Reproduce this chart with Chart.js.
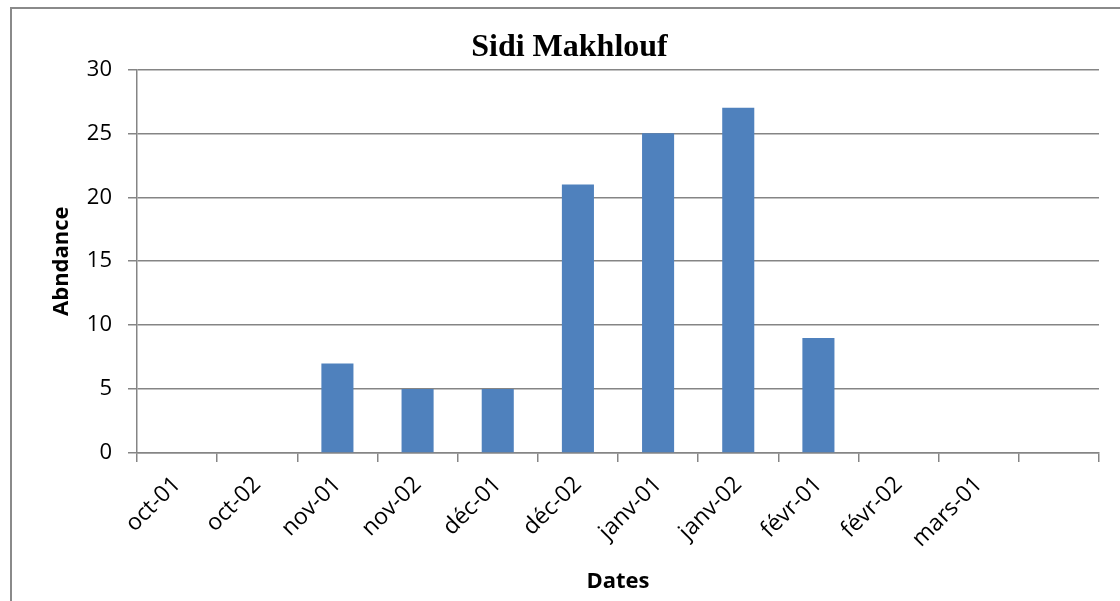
<!DOCTYPE html>
<html>
<head>
<meta charset="utf-8">
<script src="https://cdn.jsdelivr.net/npm/chart.js@4"></script>
<style>
  body { margin: 0; background: #fff; }
  canvas { display: block; }
</style>
</head>
<body>
<canvas id="abondance" width="1120" height="601"></canvas>
<script>
// dates des relevés (la dernière case est vide dans l'original)
const dates = ['oct-01', 'oct-02', 'nov-01', 'nov-02', 'déc-01', 'déc-02',
    'janv-01', 'janv-02', 'févr-01', 'févr-02', 'mars-01', '']
const abondance = [0, 0, 7, 5, 5, 21, 25, 27, 9, 0, 0, 0]
const yTicks = [0, 5, 10, 15, 20, 25, 30]

const grey = '#858585'

// cadre gris autour du graphique
const frame = {
    id: 'frame',
    beforeDraw(chart) {
        const c = chart.ctx
        c.save()
        c.fillStyle = '#fff'
        c.fillRect(0, 0, chart.width, chart.height)
        c.strokeStyle = '#8a8a8a'
        c.lineWidth = 2
        c.strokeRect(11, 8, 1200, 700)
        c.restore()
    }
}

const ctx = document.getElementById('abondance').getContext('2d')

new Chart(ctx, {
    type: 'bar',
    data: {
        labels: dates,
        datasets: [{
            label: 'Abndance',
            data: abondance,
            backgroundColor: '#4F81BD',
            barPercentage: 0.4,
            categoryPercentage: 1
        }]
    },
    options: {
        responsive: false,
        animation: false,
        layout: { padding: { left: 40, right: 21, top: 0, bottom: 0 } },
        plugins: {
            legend: { display: false },
            tooltip: { enabled: false },
            title: {
                display: true,
                text: 'Sidi Makhlouf',
                color: '#000',
                font: { family: '"Liberation Serif"', size: 32, weight: 'bold' },
                padding: { top: 29, bottom: 2 }
            }
        },
        scales: {
            x: {
                grid: { offset: true, drawOnChartArea: false, color: grey, lineWidth: 1.5, tickLength: 9 },
                border: { color: grey, width: 1.5 },
                ticks: {
                    color: '#000',
                    font: { family: '"Open Sans"', size: 23 },
                    minRotation: 45,
                    maxRotation: 45,
                    padding: 9,
                    autoSkip: false
                },
                title: {
                    display: true,
                    text: 'Dates',
                    color: '#000',
                    font: { family: '"Open Sans"', size: 22, weight: 'bold' },
                    padding: { top: 0, bottom: 6 }
                },
                afterFit(scale) { scale.height = 148 }
            },
            y: {
                min: 0,
                max: 30,
                afterBuildTicks(scale) { scale.ticks = yTicks.map(v => ({ value: v })) },
                grid: { color: grey, lineWidth: 1.5, tickLength: 9 },
                border: { color: grey, width: 1.5 },
                ticks: {
                    color: '#000',
                    font: { family: '"Open Sans"', size: 22 },
                    padding: 16
                },
                title: {
                    display: true,
                    text: 'Abndance',
                    color: '#000',
                    font: { family: '"Open Sans"', size: 22, weight: 'bold' },
                    padding: { top: 9, bottom: 0 }
                },
                afterFit(scale) { scale.width = 97 }
            }
        }
    },
    plugins: [frame]
})
</script>
</body>
</html>
